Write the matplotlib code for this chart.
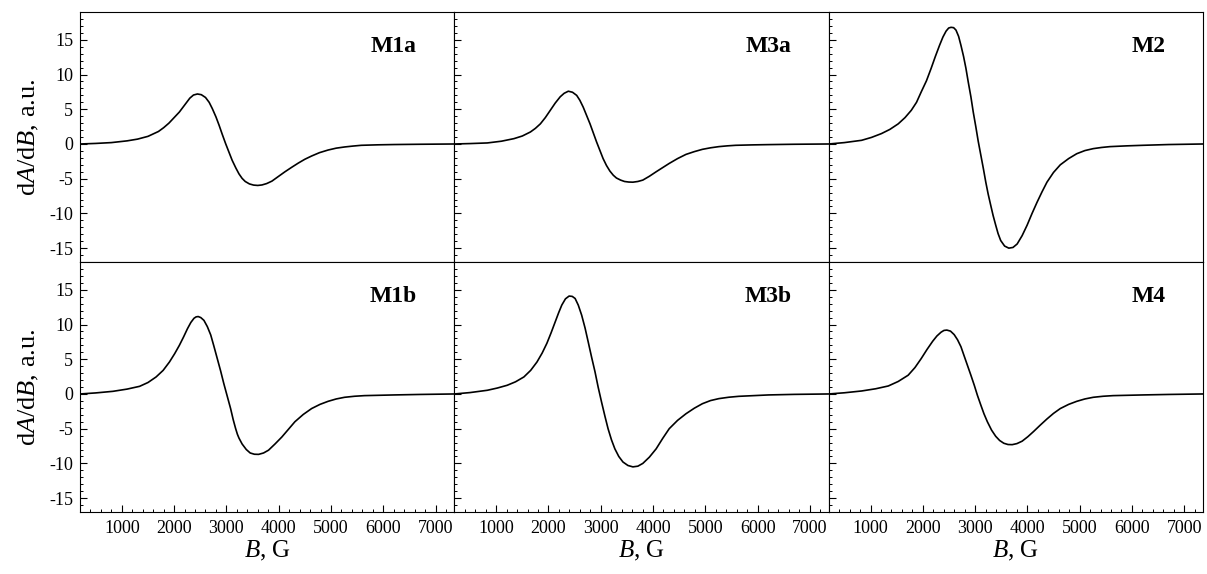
import numpy as np
import matplotlib
matplotlib.use("Agg")
import matplotlib.pyplot as plt
from matplotlib.ticker import MultipleLocator

plt.rcParams['font.family'] = ['Liberation Serif', 'DejaVu Serif']
plt.rcParams['mathtext.fontset'] = 'custom'
plt.rcParams['mathtext.rm'] = 'Liberation Serif'
plt.rcParams['mathtext.it'] = 'Liberation Serif:italic'
plt.rcParams['axes.unicode_minus'] = False

# field values (G) and dA/dB
b_m1a = [200, 500, 800, 1100, 1300, 1500, 1700, 1800, 1900, 2000, 2100, 2200, 2300, 2370,
         2445, 2520, 2600, 2670, 2730, 2800, 2860, 2920, 2985, 3050, 3110, 3180, 3240, 3300,
         3360, 3440, 3520, 3600, 3680, 3770, 3870, 3990, 4120, 4250, 4375, 4500, 4630, 4780,
         4945, 5100, 5260, 5420, 5580, 5900, 6210, 6700, 7360]
m1a = [0.0, 0.08, 0.2, 0.45, 0.7, 1.1, 1.8, 2.35, 3.0, 3.8, 4.6, 5.6, 6.6, 7.05,
       7.2, 7.1, 6.7, 6.0, 5.1, 3.9, 2.7, 1.4, 0.05, -1.2, -2.35, -3.45, -4.3, -4.95,
       -5.4, -5.75, -5.92, -5.97, -5.9, -5.7, -5.35, -4.7, -4.0, -3.35, -2.75, -2.2, -1.73, -1.25,
       -0.87, -0.6, -0.43, -0.3, -0.19, -0.12, -0.08, -0.04, 0.0]

b_m3a = [200, 500, 830, 1100, 1340, 1500, 1655, 1750, 1845, 1940, 2035, 2130, 2225, 2300,
         2380, 2460, 2540, 2600, 2665, 2730, 2795, 2860, 2920, 2985, 3045, 3110, 3175, 3240,
         3300, 3380, 3455, 3535, 3615, 3710, 3805, 3930, 4060, 4185, 4310, 4470, 4630, 4790,
         4945, 5100, 5260, 5420, 5580, 5900, 6210, 6700, 7360]
m3a = [0.0, 0.06, 0.15, 0.4, 0.77, 1.15, 1.73, 2.25, 2.9, 3.8, 4.85, 5.9, 6.8, 7.3,
       7.6, 7.45, 7.0, 6.3, 5.3, 4.1, 2.9, 1.55, 0.3, -0.95, -2.1, -3.1, -3.9, -4.5,
       -4.9, -5.2, -5.4, -5.48, -5.5, -5.4, -5.2, -4.65, -4.0, -3.4, -2.8, -2.1, -1.5, -1.1,
       -0.77, -0.55, -0.38, -0.27, -0.19, -0.13, -0.09, -0.04, 0.0]

b_m2 = [200, 500, 830, 1020, 1210, 1370, 1530, 1660, 1780, 1880, 1970, 2070, 2160, 2240,
        2320, 2385, 2445, 2495, 2540, 2590, 2635, 2685, 2730, 2780, 2825, 2870, 2920, 2965,
        3015, 3060, 3110, 3160, 3205, 3250, 3300, 3345, 3395, 3440, 3490, 3565, 3645, 3725,
        3805, 3900, 3995, 4090, 4185, 4280, 4375, 4500, 4630, 4790, 4945, 5100, 5260, 5420,
        5580, 5900, 6210, 6700, 7360]
m2 = [0.0, 0.2, 0.53, 0.95, 1.5, 2.1, 2.9, 3.8, 4.85, 6.0, 7.5, 9.1, 10.9, 12.6,
      14.2, 15.4, 16.25, 16.7, 16.8, 16.75, 16.4, 15.5, 14.2, 12.6, 10.9, 8.9, 6.8, 4.6,
      2.45, 0.4, -1.6, -3.6, -5.5, -7.2, -8.85, -10.3, -11.7, -12.9, -13.9, -14.7, -15.0, -14.9,
      -14.4, -13.2, -11.7, -10.0, -8.4, -6.9, -5.5, -4.1, -3.0, -2.1, -1.4, -0.95, -0.67, -0.5,
      -0.38, -0.27, -0.19, -0.08, 0.0]

b_m1b = [200, 500, 830, 1100, 1340, 1500, 1655, 1790, 1910, 2010, 2100, 2180, 2255, 2320,
         2380, 2420, 2460, 2510, 2570, 2635, 2700, 2760, 2825, 2890, 2950, 3015, 3080, 3130,
         3175, 3210, 3240, 3300, 3380, 3455, 3535, 3615, 3710, 3805, 3930, 4060, 4185, 4310, 4470,
         4630, 4790, 4945, 5100, 5260, 5450, 5640, 6210, 6700, 7360]
m1b = [0.0, 0.15, 0.38, 0.7, 1.1, 1.65, 2.45, 3.4, 4.6, 5.8, 7.0, 8.2, 9.4, 10.3,
       10.9, 11.1, 11.15, 11.0, 10.6, 9.7, 8.5, 6.9, 5.1, 3.3, 1.5, -0.3, -2.1, -3.7,
       -4.95, -5.8, -6.35, -7.2, -8.0, -8.5, -8.68, -8.7, -8.5, -8.1, -7.2, -6.2, -5.1, -4.0, -2.95,
       -2.1, -1.5, -1.06, -0.72, -0.48, -0.33, -0.24, -0.14, -0.07, 0.0]

b_m3b = [200, 500, 830, 1020, 1210, 1370, 1530, 1660, 1780, 1880, 1970, 2050, 2130, 2195,
         2255, 2325, 2395, 2455, 2510, 2570, 2635, 2700, 2760, 2825, 2890, 2950, 3015, 3080,
         3140, 3205, 3270, 3345, 3425, 3520, 3615, 3710, 3805, 3930, 4060, 4185, 4310, 4470,
         4630, 4790, 4945, 5100, 5260, 5450, 5640, 6210, 6700, 7360]
m3b = [0.0, 0.2, 0.53, 0.85, 1.25, 1.75, 2.45, 3.4, 4.6, 5.9, 7.3, 8.8, 10.4, 11.7,
       12.8, 13.7, 14.1, 14.05, 13.75, 12.8, 11.35, 9.5, 7.5, 5.3, 3.2, 1.0, -1.15, -3.2,
       -5.0, -6.6, -7.9, -9.0, -9.8, -10.3, -10.5, -10.4, -10.0, -9.1, -7.9, -6.4, -5.0, -3.8,
       -2.85, -2.05, -1.4, -0.95, -0.67, -0.47, -0.34, -0.14, -0.06, 0.0]

b_m4 = [200, 500, 830, 1100, 1340, 1530, 1720, 1850, 1970, 2080, 2190, 2270, 2350, 2405,
        2460, 2530, 2600, 2665, 2730, 2790, 2855, 2920, 2985, 3045, 3110, 3170, 3235, 3315,
        3395, 3470, 3550, 3630, 3710, 3800, 3900, 4010, 4120, 4245, 4375, 4500, 4630, 4790,
        4945, 5100, 5260, 5450, 5640, 6210, 6700, 7360]
m4 = [0.0, 0.17, 0.43, 0.75, 1.15, 1.8, 2.7, 3.8, 5.1, 6.4, 7.6, 8.35, 8.9, 9.15,
      9.2, 9.05, 8.55, 7.8, 6.8, 5.5, 4.1, 2.7, 1.25, -0.2, -1.6, -2.85, -4.0, -5.2,
      -6.1, -6.7, -7.1, -7.28, -7.3, -7.15, -6.8, -6.15, -5.4, -4.5, -3.6, -2.8, -2.1, -1.5,
      -1.06, -0.72, -0.48, -0.33, -0.24, -0.14, -0.07, 0.0]

names = [["M1a", "M3a", "M2"], ["M1b", "M3b", "M4"]]
fields = [[b_m1a, b_m3a, b_m2], [b_m1b, b_m3b, b_m4]]
curves = [[m1a, m3a, m2], [m1b, m3b, m4]]

fig, axes = plt.subplots(2, 3, figsize=(12.07, 5.74), dpi=100, sharex=True, sharey=True)
fig.subplots_adjust(left=0.0663, right=0.9967, top=0.979, bottom=0.108, wspace=0, hspace=0)

for r in range(2):
    for c in range(3):
        ax = axes[r][c]
        ax.plot(fields[r][c], curves[r][c], color='black', lw=1.2,
                solid_joinstyle='round', solid_capstyle='round')
        ax.text(0.9, 0.862, names[r][c], transform=ax.transAxes, ha='right', va='center',
                fontsize=17, fontweight='bold')
        ax.set_xlim(200, 7360)
        ax.set_ylim(-17, 19)
        ax.xaxis.set_major_locator(MultipleLocator(1000))
        ax.xaxis.set_minor_locator(MultipleLocator(200))
        ax.yaxis.set_major_locator(MultipleLocator(5))
        ax.yaxis.set_minor_locator(MultipleLocator(1))
        ax.tick_params(which='both', direction='in', top=False, right=False, labelsize=13)
        ax.tick_params(which='major', length=5, width=0.8)
        ax.tick_params(which='minor', length=2.5, width=0.7)
        ax.tick_params(axis='x', pad=6)
        ax.tick_params(axis='y', pad=5)
        if r == 0:
            ax.tick_params(axis='x', which='both', length=0)
        else:
            ax.set_xlabel("$B$, G", fontsize=18, labelpad=1)
        if c == 0:
            ax.set_ylabel("d$A$/d$B$, a.u.", fontsize=19, labelpad=6)

fig.savefig("out.png", dpi=100)
